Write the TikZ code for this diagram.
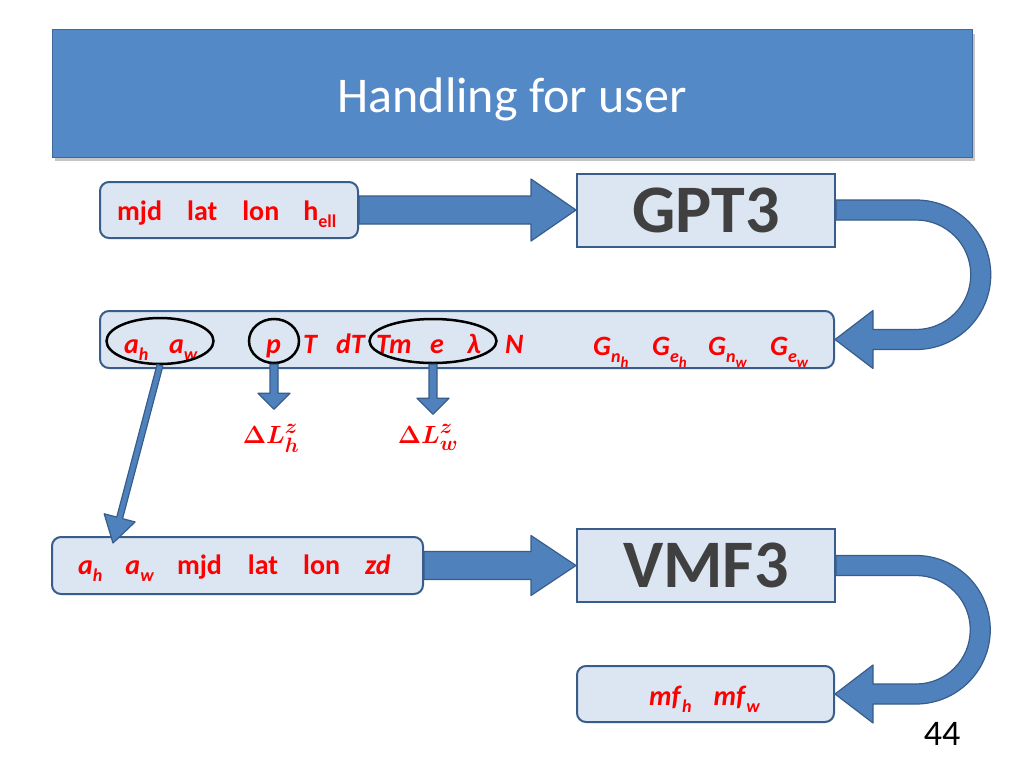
\documentclass[tikz,border=0pt]{standalone}
\usepackage[no-math]{fontspec}
\setmainfont{Carlito}
\usepackage{amsmath}
\usetikzlibrary{calc, shapes.geometric, shadows}
\definecolor{titleblue} {RGB}{84, 137, 200}
\definecolor{titleedge} {RGB}{62, 103, 155}
\definecolor{boxfill}   {RGB}{220, 230, 242}
\definecolor{boxedge}   {RGB}{56,  93, 138}
\definecolor{arrowblue} {RGB}{79, 129, 189}
\definecolor{redtext}   {RGB}{255,  0,   0}
\definecolor{darktext}  {RGB}{64,  64,  64}
\newcommand{\lowsub}[1]{\raisebox{-0.28em}{\fontsize{18}{18}\selectfont #1}}
\newcommand{\lowsubsub}[1]{\raisebox{-0.25em}{\fontsize{15}{15}\selectfont #1}}
% block arrow: start, tip, shaft half width, head half width, head length
\newcommand{\blockarrow}[5]{%
  \coordinate (hb) at ($(#2)!#5!(#1)$);
  \draw[blockarr] ($(#1)!#3!90:(#2)$) -- ($(hb)!#3!90:(#2)$) -- ($(hb)!#4!90:(#2)$)
    -- (#2) -- ($(hb)!#4!-90:(#2)$) -- ($(hb)!#3!-90:(#2)$) -- ($(#1)!#3!-90:(#2)$) -- cycle;}
% u-turn arrow from the right side of #1 round to the right side of #2
\newcommand{\uturn}[2]{%
  \draw[blockarr] let \p1=(#1), \p2=(#2), \n1={(\y1-\y2)/2}, \n2={\n1+10pt}, \n3={\n1-10pt} in
    (\x1,\y1+10pt) -- (\x1+80pt,\y1+10pt) arc[start angle=90, end angle=-90, radius=\n2]
    -- (\x2+38pt,\y2-10pt) -- (\x2+38pt,\y2-29pt) -- (\x2,\y2) -- (\x2+38pt,\y2+29pt)
    -- (\x2+38pt,\y2+10pt) -- (\x1+80pt,\y2+10pt) arc[start angle=-90, end angle=90, radius=\n3]
    -- (\x1,\y1-10pt) -- cycle;}

\begin{document}
\begin{tikzpicture}[x=1pt, y=-1pt,
  titlebar/.style={rectangle, fill=titleblue, draw=titleedge, line width=1pt, inner sep=0pt,
    drop shadow={shadow xshift=3pt, shadow yshift=-4pt, opacity=0.45}},
  inbox/.style={rectangle, rounded corners=9pt, fill=boxfill, draw=boxedge, line width=2pt, inner sep=0pt},
  modbox/.style={rectangle, fill=boxfill, draw=boxedge, line width=2pt, inner sep=0pt,
    minimum width=258pt, minimum height=73pt, text=darktext, font=\fontsize{68}{68}\selectfont\bfseries},
  redlbl/.style={anchor=base west, inner sep=0pt, text=redtext, font=\fontsize{28}{30}\selectfont\bfseries},
  dellbl/.style={anchor=base, inner sep=0pt, text=redtext, font=\fontsize{30}{30}\selectfont\boldmath},
  ring/.style={ellipse, draw=black, line width=2.5pt, inner sep=0pt},
  blockarr/.style={fill=arrowblue, draw=boxedge, line width=1.2pt, line join=round}]
  \fill[white] (0,0) rectangle (1024,768);
  \useasboundingbox (0,0) rectangle (1024,768);
  % title bar
  \node[titlebar, minimum width=920pt, minimum height=127pt] (title) at (512,93.5) {};
  \node[anchor=base, text=white, font=\fontsize{50}{50}\selectfont] (titletxt) at (512,112) {Handling for user};

  % boxes
  \node[inbox, minimum width=258pt, minimum height=56pt] (in1) at (229,210) {};
  \node[modbox] (gpt) at (706,210) {GPT3};
  \node[inbox, minimum width=734pt, minimum height=57pt] (in2) at (467,339.5) {};
  \node[inbox, minimum width=371pt, minimum height=57pt] (in3) at (237.5,565.5) {};
  \node[modbox] (vmf) at (706,565.5) {VMF3};
  \node[inbox, minimum width=257pt, minimum height=56pt] (out) at (705.5,694) {};

  % box texts
  \node[redlbl] (in1txt) at (117,220) {mjd\hspace{25pt}lat\hspace{25pt}lon\hspace{24pt}h\lowsub{ell}};
  \node[redlbl] (in3txt) at (78,574) {\textit{a}\lowsub{\textit{h}}\hspace{23pt}\textit{a}\lowsub{\textit{w}}%
    \hspace{23pt}mjd\hspace{26pt}lat\hspace{25pt}lon\hspace{25pt}\textit{zd}};
  \node[redlbl] (outtxt) at (649,705) {\textit{mf}\lowsub{\textit{h}}\hspace{22pt}\textit{mf}\lowsub{\textit{w}}};

  % GPT3 output row
  \node[redlbl] (ah)  at (124,353) {\textit{a}\lowsub{\textit{h}}};
  \node[redlbl] (aw)  at (169,353) {\textit{a}\lowsub{\textit{w}}};
  \node[redlbl] (pp)  at (266,353) {\textit{p}};
  \node[redlbl] (tt)  at (303,353) {\textit{T}};
  \node[redlbl] (dt)  at (336,353) {\textit{dT}};
  \node[redlbl] (tm)  at (376,353) {\textit{Tm}};
  \node[redlbl] (ee)  at (430,353) {\textit{e}};
  \node[redlbl] (lam) at (467,353) {\textit{λ}};
  \node[redlbl] (nn)  at (505,353) {\textit{N}};
  \node[redlbl] (gnh) at (593,355) {\textit{G}\lowsub{\textit{n}\lowsubsub{\textit{h}}}};
  \node[redlbl] (geh) at (652,355) {\textit{G}\lowsub{\textit{e}\lowsubsub{\textit{h}}}};
  \node[redlbl] (gnw) at (708,355) {\textit{G}\lowsub{\textit{n}\lowsubsub{\textit{w}}}};
  \node[redlbl] (gew) at (770,355) {\textit{G}\lowsub{\textit{e}\lowsubsub{\textit{w}}}};
  % rings
  \node[ring, minimum width=107pt, minimum height=46pt] (ringA) at (160,341) {};
  \node[ring, minimum width=50pt, minimum height=44pt] (ringP) at (274,341) {};
  \node[ring, minimum width=127pt, minimum height=44pt] (ringT) at (433,341) {};
  % delays
  \node[dellbl] (dLh) at (271,443) {$\Delta L_h^z$};
  \node[dellbl] (dLw) at (428,443) {$\Delta L_w^z$};

  % arrows
  \blockarrow{in1.east}{gpt.west}{14pt}{31pt}{45pt}
  \blockarrow{in3.east}{vmf.west}{14pt}{30pt}{45pt}
  \uturn{gpt.east}{in2.east}
  \uturn{vmf.east}{out.east}
  \coordinate (tipH) at ($(ringP.south)+(0,45)$);
  \coordinate (tipW) at ($(ringT.south)+(0,50)$);
  \coordinate (tipA) at (113,543);
  \blockarrow{ringP.south}{tipH}{4pt}{16pt}{16pt}
  \blockarrow{ringT.south}{tipW}{4pt}{16pt}{16pt}
  \blockarrow{ringA.south}{tipA}{3pt}{16pt}{26pt}

  % page number
  \node[anchor=base, font=\fontsize{36}{36}\selectfont] (pagenum) at (942,745) {44};
\end{tikzpicture}
\end{document}
